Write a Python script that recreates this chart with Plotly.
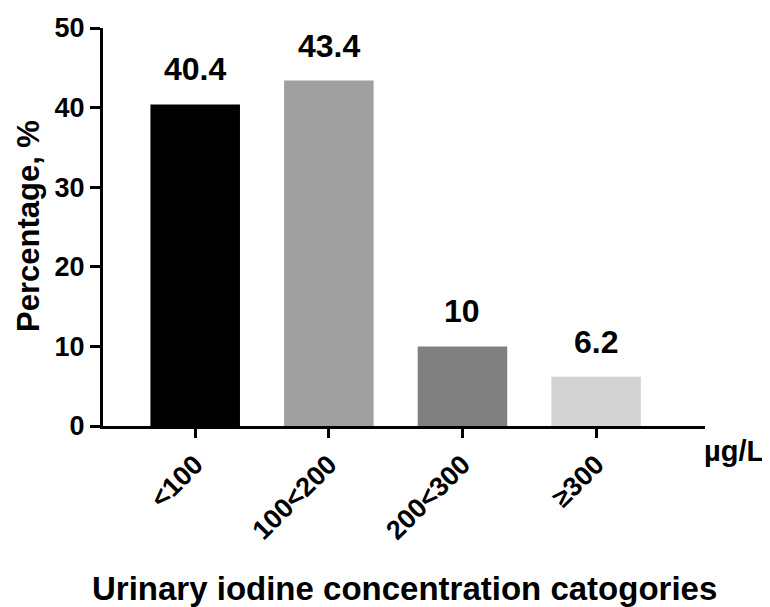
import plotly.graph_objects as go

categories = ["<100", "100<200", "200<300", "≥300"]
percentages = [40.4, 43.4, 10, 6.2]
value_labels = ["40.4", "43.4", "10", "6.2"]
bar_colors = ["#000000", "#a0a0a0", "#808080", "#d3d3d3"]
y_ticks = [0, 10, 20, 30, 40, 50]

FONT = "Liberation Sans, Arial, sans-serif"

# plot area target (screen px): x 103..705, y 28..426 ; page body offsets by 8px
L, R, T, B = 103, 705, 28, 426
OFF = 8
W, H = 770, 607
PW, PH = R - L, B - T


def px(xs):
    return (xs - L) / PW


def py(ys):
    return (B - ys) / PH


fig = go.Figure()
fig.add_trace(go.Bar(
    x=list(range(len(categories))),
    y=percentages,
    width=0.67,
    marker=dict(color=bar_colors, line=dict(width=0)),
    hoverinfo="skip",
))

for i, (v, lab) in enumerate(zip(percentages, value_labels)):
    fig.add_annotation(x=i, y=v, text=lab, showarrow=False, xref="x", yref="y",
                       xanchor="center", yanchor="bottom", yshift=15,
                       font=dict(family=FONT, size=32, color="black", weight="bold"))

fig.add_annotation(xref="paper", yref="paper", x=px(28), y=py(226), text="Percentage, %",
                   textangle=-90, showarrow=False, xanchor="center", yanchor="middle",
                   font=dict(family=FONT, size=31, color="black", weight="bold"))
fig.add_annotation(xref="paper", yref="paper", x=px(404), y=py(588),
                   text="Urinary iodine concentration catogories", showarrow=False,
                   xanchor="center", yanchor="middle",
                   font=dict(family=FONT, size=33, color="black", weight="bold"))
fig.add_annotation(xref="paper", yref="paper", x=px(734), y=py(451), text="µg/L",
                   showarrow=False, xanchor="center", yanchor="middle",
                   font=dict(family=FONT, size=29, color="black", weight="bold"))

fig.update_layout(
    width=W, height=H,
    margin=dict(l=L - OFF, r=W - R + OFF, t=T - OFF, b=H - B + OFF, autoexpand=False),
    paper_bgcolor="white", plot_bgcolor="white",
    showlegend=False,
    font=dict(family=FONT, color="black"),
)
fig.update_xaxes(
    range=[-0.69, 3.815], automargin=False,
    tickmode="array", tickvals=list(range(len(categories))), ticktext=categories,
    tickangle=-45,
    ticks="outside", ticklen=9, tickwidth=3, tickcolor="black",
    showline=True, linewidth=3, linecolor="black",
    showgrid=False, zeroline=False,
    tickfont=dict(family=FONT, size=27, color="black", weight="bold"),
)
fig.update_yaxes(
    range=[0, 50], automargin=False,
    tickmode="array", tickvals=y_ticks, ticktext=[str(t) for t in y_ticks],
    ticks="outside", ticklen=10, tickwidth=3, tickcolor="black",
    showline=True, linewidth=3, linecolor="black",
    showgrid=False, zeroline=False,
    tickfont=dict(family=FONT, size=27, color="black", weight="bold"),
)

fig.write_html("out.html")
